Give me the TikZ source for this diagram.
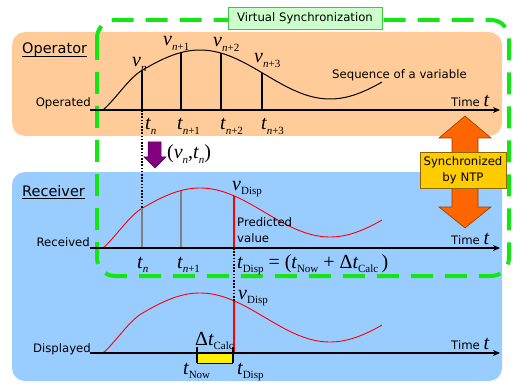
\documentclass[tikz,border=0pt]{standalone}
\usepackage{fontspec}
\setmainfont{DejaVu Sans}
\newfontfamily\tms{Liberation Serif}
\usetikzlibrary{arrows.meta}
\definecolor{opfill}{RGB}{255,204,153}
\definecolor{rcfill}{RGB}{153,204,255}
\definecolor{vsgreen}{RGB}{20,230,20}
\definecolor{vslabel}{RGB}{204,255,204}
\definecolor{vsedge}{RGB}{60,200,60}
\definecolor{ntpfill}{RGB}{255,204,0}
\definecolor{ntpedge}{RGB}{140,100,0}
\definecolor{arrfill}{RGB}{255,102,0}
\definecolor{arredge}{RGB}{150,60,0}
\definecolor{purp}{RGB}{128,0,128}
\definecolor{purpedge}{RGB}{80,0,80}
\newcommand\bigv[1]{{\tms\fontsize{20}{20}\selectfont #1}}
\newcommand\subs[1]{\raisebox{-4.5pt}{\tms\fontsize{11}{11}\selectfont #1}}
\newcommand\sv[2]{\bigv{\itshape #1}\subs{#2}}
\pgfmathdeclarefunction{wave}{1}{\pgfmathparse{74.5-24.5*cos((#1-200)/130*180)}}
\tikzset{
  lab/.style={font=\fontsize{11.7}{16}\selectfont, inner sep=0pt},
  biglab/.style={font=\fontsize{14.5}{16}\selectfont, inner sep=0pt},
  sym/.style={inner sep=0pt, anchor=base west},
  axisline/.style={line width=2.4pt, -{Stealth[length=7pt,width=6pt]}},
  sample/.style={line width=2.2pt},
  graysample/.style={line width=1.5pt, draw={rgb,255:red,128;green,128;blue,128}},
  redsample/.style={line width=2pt, red},
  blackcurve/.style={line width=1pt},
  redcurve/.style={line width=0.9pt, red},
  dotline/.style={line width=2pt, dash pattern=on 1.6pt off 1.6pt},
  vsline/.style={line width=4pt, vsgreen, dash pattern=on 22pt off 12pt, rounded corners=18pt},
}
\begin{document}
\begin{tikzpicture}[x=1pt,y=-1pt]
\useasboundingbox (0,0) rectangle (514,385);
% panels
\fill[opfill, rounded corners=13pt] (12,32) rectangle (502,136);
\fill[rcfill, rounded corners=13pt] (12,172) rectangle (502,381);
% panel labels
\node[biglab, anchor=base west] (oplabel) at (22,54) {Operator};
\draw[line width=0.8pt] ([yshift=-2.5pt]oplabel.base west) -- ([yshift=-2.5pt]oplabel.base east);
\node[biglab, anchor=base west] (rclabel) at (22,196) {Receiver};
\draw[line width=0.8pt] ([yshift=-2.5pt]rclabel.base west) -- ([yshift=-2.5pt]rclabel.base east);
% virtual synchronization frame
\draw[vsline] (97,20) rectangle (509,276);
\node[lab, draw=vsedge, line width=0.8pt, fill=vslabel, minimum width=154pt, minimum height=22pt] (vslab) at (305,18) {Virtual Synchronization};
% NTP double arrow
\filldraw[fill=arrfill, draw=arredge, line width=0.6pt]
  (465,116) -- (491,138) -- (478,138) -- (478,207) -- (491,207) -- (465,228)
  -- (439,207) -- (452,207) -- (452,138) -- (439,138) -- cycle;
\node[lab, draw=ntpedge, line width=0.8pt, fill=ntpfill, minimum width=86pt, minimum height=36pt, align=center] (ntp) at (463,170) {Synchronized\\by NTP};
% ---------- Operator panel ----------
\coordinate (opA) at (90,110);
\coordinate (opB) at (500,110);
\draw[blackcurve] (103,110) .. controls (116,98.7) and (129,77.9) .. (142,{wave(142)})
  -- plot[domain=142:382, samples=70] (\x,{wave(\x)});
\foreach \i/\xx in {1/142,2/181,3/221,4/262}{
  \coordinate (sb\i) at (\xx,110);
  \coordinate (st\i) at (\xx,{wave(\xx)});
  \draw[sample] (sb\i) -- (st\i);
}
\draw[axisline] (opA) -- (opB);
\node[lab, anchor=base east] (operated) at (91,107) {Operated};
\node[lab, anchor=base west] (time1) at (451,107) {Time \bigv{\itshape t}};
\node[lab, anchor=base west] (seq) at (332,79) {Sequence of a variable};
\node[sym] (vn) at (132,67) {\sv{v}{\itshape n}};
\node[sym] (vn1) at (163,46) {\sv{v}{\textit{n}+1}};
\node[sym] (vn2) at (213,47) {\sv{v}{\textit{n}+2}};
\node[sym] (vn3) at (254,63) {\sv{v}{\textit{n}+3}};
\node[sym] (tn) at (145,130) {\sv{t}{\itshape n}};
\node[sym] (tn1) at (177,130) {\sv{t}{\textit{n}+1}};
\node[sym] (tn2) at (220,130) {\sv{t}{\textit{n}+2}};
\node[sym] (tn3) at (261,130) {\sv{t}{\textit{n}+3}};
% transmission arrow
\filldraw[fill=purp, draw=purpedge, line width=0.5pt]
  (148,142) -- (161,142) -- (161,157) -- (166,157) -- (155,168) -- (144,157) -- (148,157) -- cycle;
\node[sym] (vt) at (167,159) {\bigv{(}\sv{v}{\itshape n}\bigv{,}\sv{t}{\itshape n}\bigv{)}};
% ---------- Received ----------
\coordinate (rcA) at (90,248);
\coordinate (rcB) at (500,248);
\draw[redcurve] (103,248) .. controls (116,236.7) and (129,215.9) .. (142,{wave(142)+138})
  -- plot[domain=142:382, samples=70] (\x,{wave(\x)+138});
\coordinate (rb1) at (142,248);
\coordinate (rt1) at (142,{wave(142)+138});
\coordinate (rb2) at (181,248);
\coordinate (rt2) at (181,{wave(181)+138});
\coordinate (rb3) at (234,248);
\coordinate (rt3) at (234,{wave(234)+138});
\draw[graysample] (rb1) -- (rt1);
\draw[graysample] (rb2) -- (rt2);
\draw[redsample] (rb3) -- (rt3);
\draw[dotline] (sb1) -- (rt1);
\draw[axisline] (rcA) -- (rcB);
\node[lab, anchor=base east] (received) at (90,246) {Received};
\node[lab, anchor=base west] (time2) at (451,244) {Time \bigv{\itshape t}};
\node[sym] (vdisp1) at (232,190) {\sv{v}{Disp}};
\node[lab, anchor=north west, align=left] (pred) at (237,217) {Predicted\\value};
\node[sym] (rtn) at (137,268) {\sv{t}{\itshape n}};
\node[sym] (rtn1) at (177,268) {\sv{t}{\textit{n}+1}};
\node[sym] (formula) at (237,268) {\sv{t}{Disp}\bigv{\ =\ (}\sv{t}{Now}\bigv{\ +\ Δ}\sv{t}{Calc}\bigv{\,)}};
% ---------- Displayed ----------
\coordinate (dpA) at (90,353);
\coordinate (dpB) at (500,353);
\draw[redcurve] (103,353) .. controls (116,341.7) and (129,320.9) .. (142,{wave(142)+243})
  -- plot[domain=142:382, samples=70] (\x,{wave(\x)+243});
\coordinate (db) at (234,353);
\coordinate (dt) at (234,{wave(234)+243});
\draw[dotline] (rb3) -- (dt);
\draw[redsample] (dt) -- (db);
\fill[yellow] (197,354) rectangle (233,363);
\draw[line width=0.7pt] (197,363) -- (233,363);
\draw[line width=2pt] (197,347) -- (197,363);
\draw[line width=2pt] (233,347) -- (233,363);
\draw[axisline] (dpA) -- (dpB);
\node[lab, anchor=base east] (displayed) at (91,352) {Displayed};
\node[lab, anchor=base west] (time3) at (451,349) {Time \bigv{\itshape t}};
\node[sym] (vdisp2) at (238,299) {\sv{v}{Disp}};
\node[sym] (dtcalc) at (195,345) {\bigv{Δ}\sv{t}{Calc}};
\node[sym] (tnow) at (183,374) {\sv{t}{Now}};
\node[sym] (tdisp) at (237,374) {\sv{t}{Disp}};
\end{tikzpicture}
\end{document}
